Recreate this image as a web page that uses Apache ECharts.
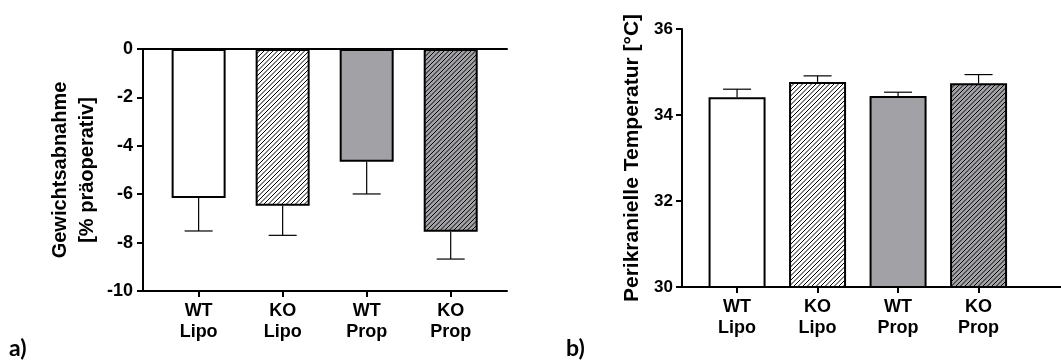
<!DOCTYPE html>
<html>
<head>
<meta charset="utf-8">
<script src="https://cdn.jsdelivr.net/npm/echarts@6/dist/echarts.min.js"></script>
<style>
  html, body { margin: 0; padding: 0; background: #fff; }
  #main { width: 1061px; height: 362px; }
</style>
</head>
<body>
<div id="main"></div>
<script>
// groups (tick labels under both panels)
const categories = ['WT\nLipo', 'KO\nLipo', 'WT\nProp', 'KO\nProp'];
const tickPositions = [0, 1, 2, 3];

// a) weight loss [% of pre-op], mean and SEM
const weightLoss = [-6.16, -6.48, -4.66, -7.55];
const weightLossErr = [1.36, 1.22, 1.33, 1.13];

// b) pericranial temperature [°C], mean and SEM
const temperature = [34.41, 34.77, 34.44, 34.74];
const temperatureErr = [0.19, 0.14, 0.09, 0.20];

const FONT = 'Liberation Sans';
const GRAY = '#a2a2a6';

// diagonal hatch, "/" direction
function makeHatch(bg) {
  const c = document.createElement('canvas');
  c.width = 9;
  c.height = 9;
  const ctx = c.getContext('2d');
  ctx.fillStyle = bg;
  ctx.fillRect(0, 0, 9, 9);
  ctx.strokeStyle = '#000';
  ctx.lineWidth = 1.0;
  for (let k = -9; k <= 27; k += 4.5) {
    ctx.beginPath();
    ctx.moveTo(k + 2, -2);
    ctx.lineTo(k - 11, 11);
    ctx.stroke();
  }
  return { image: c, repeat: 'repeat' };
}

const fills = ['#fff', makeHatch('#fff'), GRAY, makeHatch(GRAY)];

const myChart = echarts.init(document.getElementById('main'));

function errorBars(values, errs, dir) {
  return values.map((v, i) => [i, v, v + dir * errs[i]]);
}

function renderErr(params, api) {
  const p0 = api.coord([api.value(0), api.value(1)]);
  const p1 = api.coord([api.value(0), api.value(2)]);
  const half = 14;
  const style = { stroke: '#000', lineWidth: 1.2 };
  return {
    type: 'group',
    children: [
      { type: 'line', shape: { x1: p0[0], y1: p0[1], x2: p1[0], y2: p1[1] }, style },
      { type: 'line', shape: { x1: p1[0] - half, y1: p1[1], x2: p1[0] + half, y2: p1[1] }, style }
    ]
  };
}

const axisLine = { show: true, onZero: false, lineStyle: { color: '#000', width: 2 } };
const labelStyle = { color: '#000', fontFamily: FONT, fontWeight: 'bold' };

const option = {
  animation: false,
  backgroundColor: '#fff',
  textStyle: { fontFamily: FONT },
  grid: [
    { left: 143, top: 49, width: 364, height: 242 },
    { left: 682, top: 29, width: 420, height: 258 }
  ],
  xAxis: [
    {
      type: 'value', gridIndex: 0, position: 'bottom',
      min: -0.662, max: 3.67,
      axisLine,
      splitLine: { show: false },
      axisTick: { show: true, customValues: tickPositions, length: 6, lineStyle: { color: '#000', width: 2 } },
      axisLabel: {
        ...labelStyle, fontSize: 18, lineHeight: 21, margin: 10,
        customValues: tickPositions,
        formatter: (v) => categories[Math.round(v)]
      }
    },
    {
      type: 'value', gridIndex: 0, position: 'top',
      min: -0.662, max: 3.67,
      axisLine,
      splitLine: { show: false },
      axisTick: { show: false },
      axisLabel: { show: false }
    },
    {
      type: 'value', gridIndex: 1, position: 'bottom',
      min: -0.684, max: 4.024,
      axisLine,
      splitLine: { show: false },
      axisTick: { show: true, customValues: tickPositions, length: 6, lineStyle: { color: '#000', width: 2 } },
      axisLabel: {
        ...labelStyle, fontSize: 18, lineHeight: 21, margin: 10,
        customValues: tickPositions,
        formatter: (v) => categories[Math.round(v)]
      }
    }
  ],
  yAxis: [
    {
      type: 'value', gridIndex: 0,
      min: -10, max: 0, interval: 2,
      axisLine,
      splitLine: { show: false },
      axisTick: { show: true, length: 6, lineStyle: { color: '#000', width: 2 } },
      axisLabel: { ...labelStyle, fontSize: 18, margin: 10 },
      name: 'Gewichtsabnahme\n[% präoperativ]',
      nameLocation: 'middle',
      nameGap: 42,
      nameTextStyle: { ...labelStyle, fontSize: 20, lineHeight: 27 }
    },
    {
      type: 'value', gridIndex: 1,
      min: 30, max: 36, interval: 2,
      axisLine,
      splitLine: { show: false },
      axisTick: { show: true, length: 6, lineStyle: { color: '#000', width: 2 } },
      axisLabel: { ...labelStyle, fontSize: 17, margin: 9 },
      name: 'Perikranielle Temperatur [°C]',
      nameLocation: 'middle',
      nameGap: 39,
      nameTextStyle: { ...labelStyle, fontSize: 21 }
    }
  ],
  graphic: [
    { type: 'text', left: 9, top: 337, style: { text: 'a)', font: 'bold 23px Lato, "Open Sans", sans-serif', fill: '#000' } },
    { type: 'text', left: 566, top: 337, style: { text: 'b)', font: 'bold 23px Lato, "Open Sans", sans-serif', fill: '#000' } }
  ],
  series: [
    {
      type: 'bar', xAxisIndex: 0, yAxisIndex: 0,
      barWidth: 54,
      itemStyle: { borderColor: '#000', borderWidth: 2 },
      data: weightLoss.map((v, i) => ({ value: [i, v], itemStyle: { color: fills[i] } }))
    },
    {
      type: 'custom', xAxisIndex: 0, yAxisIndex: 0,
      renderItem: renderErr,
      data: errorBars(weightLoss, weightLossErr, -1),
      z: 3
    },
    {
      type: 'bar', xAxisIndex: 2, yAxisIndex: 1,
      barWidth: 57,
      itemStyle: { borderColor: '#000', borderWidth: 2 },
      data: temperature.map((v, i) => ({ value: [i, v], itemStyle: { color: fills[i] } }))
    },
    {
      type: 'custom', xAxisIndex: 2, yAxisIndex: 1,
      renderItem: renderErr,
      data: errorBars(temperature, temperatureErr, 1),
      z: 3
    }
  ]
};

myChart.setOption(option);
</script>
</body>
</html>
